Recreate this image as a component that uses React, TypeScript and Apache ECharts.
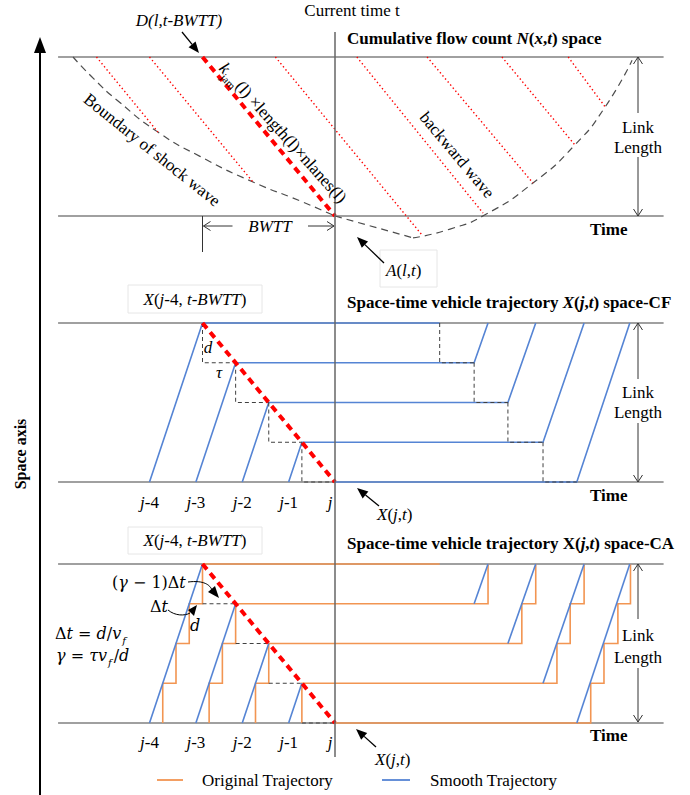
import React, { useEffect, useRef } from 'react';
import * as echarts from 'echarts';

// ---------------- data (time in Δt units, t = 0 is current time; space in cells d) ----------------
const vehicleLabels = ['j-4', 'j-3', 'j-2', 'j-1', 'j'];
const entryTimes = [-14, -10.5, -7, -3.5, 0];
const queueLevels = [4, 3, 2, 1, 0];
const queueArrivals = [-10, -7.5, -5, -2.5, 0];
const departTimes = [7.9, 10.5, 13.05, 15.7, 18.25];
const exitTimes: (number | null)[] = [null, 11.55, 15.15, 18.8, 22.25];
const caEntrySteps = [[-13, -12, -11, -10], [-9.5, -8.5, -7.5], [-6, -5], [-2.5], []];
const caExitSteps = [[], [11.55], [14.1, 15.15], [16.75, 17.75, 18.8], [19.3, 20.3, 21.35, 22.3]];
const linkRange = [0, 4];
const timeRange = [-21, 25];
const panelLineTimes = [-20.9, 24.8];
const jamWave = [[-10, 4], [0, 0]];
const backwardWaveTops = [-18, -14, -4.5, 1.65, 6.95, 12.6, 17.6];
const backwardWaveEnds = [[-13.36, 2.11], [-6.19, 0.855], [6.57, -0.48], [11.17, 0.075], [14.94, 0.83], [18.1, 1.79], [20.4, 2.74]];
const shockLeft = [[-19.77, 4], [-18.2, 3.45], [-16.4, 2.9], [-13.36, 2.11], [-10.19, 1.5], [-6.19, 0.855], [-2.64, 0.38], [0, 0]];
const shockMid = [[0, 0], [5.89, -0.55]];
const shockRight = [[5.89, -0.55], [8.68, -0.33], [11.32, 0.03], [14.94, 0.83], [18.11, 1.79], [20.38, 2.74], [22.42, 3.92]];
const legendNames = ['Original Trajectory', 'Smooth Trajectory'];

// ---------------- layout & style ----------------
const SERIF = '"Liberation Serif", "Times New Roman", serif';
const MATH = '"DejaVu Serif", serif';
const GRID_LEFT = 56.75;
const GRID_W = 609.5;
const PANEL_TOPS = [57, 323, 564];
const PANEL_H = 159;
const GRAY = '#808080';
const RED = '#ff0000';
const BLUE = '#5584d4';
const ORANGE = '#f29552';
const DASH = '#404040';

function buildOption() {
  const series: any[] = [];
  const add = (grid: number, data: number[][], color: string, width: number, type: any, z: number, extra: any = {}) => {
    series.push({
      type: 'line', xAxisIndex: grid, yAxisIndex: grid, data, symbol: 'none', showSymbol: false,
      clip: false, silent: true, z, animation: false,
      lineStyle: { color, width, type, cap: 'butt', join: 'miter' },
      itemStyle: { color },
      emphasis: { disabled: true },
      ...extra,
    });
  };
  for (let g = 0; g < 3; g++) {
    add(g, [[panelLineTimes[0], linkRange[1]], [panelLineTimes[1], linkRange[1]]], GRAY, 1.5, 'solid', 1);
    add(g, [[panelLineTimes[0], linkRange[0]], [panelLineTimes[1], linkRange[0]]], GRAY, 1.5, 'solid', 1);
  }
  // ---- panel 1: cumulative flow count ----
  backwardWaveTops.forEach((t, i) => add(0, [[t, linkRange[1]], backwardWaveEnds[i]], RED, 1.4, [1.4, 2.6], 3));
  add(0, shockLeft, '#4d4d4d', 1.2, [7, 5], 2, { smooth: 0.6 });
  add(0, shockMid, '#4d4d4d', 1.2, [7, 5], 2);
  add(0, shockRight, '#4d4d4d', 1.2, [7, 5], 2, { smooth: 0.6 });
  add(0, jamWave, RED, 4, [7, 5], 6);

  // ---- panel 2: CF trajectories ----
  vehicleLabels.forEach((_, k) => {
    const pts = [[entryTimes[k], 0], [queueArrivals[k], queueLevels[k]], [departTimes[k], queueLevels[k]]];
    if (exitTimes[k] != null) pts.push([exitTimes[k] as number, linkRange[1]]);
    add(1, pts, BLUE, 1.6, 'solid', 3, { name: legendNames[1] });
  });
  for (let k = 0; k < 4; k++) {
    add(1, [[queueArrivals[k], queueLevels[k]], [queueArrivals[k], queueLevels[k] - 1], [queueArrivals[k + 1], queueLevels[k] - 1]], DASH, 1, [4, 3], 4);
    add(1, [[departTimes[k], queueLevels[k]], [departTimes[k], queueLevels[k] - 1], [departTimes[k + 1], queueLevels[k] - 1]], DASH, 1, [4, 3], 4);
  }
  add(1, jamWave, RED, 4, [7, 5], 6);

  // ---- panel 3: CA trajectories ----
  vehicleLabels.forEach((_, k) => {
    const pts: number[][] = [];
    let lvl = 0;
    if (caEntrySteps[k].length === 0) pts.push([queueArrivals[k], 0]);
    caEntrySteps[k].forEach((s) => { pts.push([s, lvl]); pts.push([s, lvl + 1]); lvl++; });
    caExitSteps[k].forEach((s) => { pts.push([s, lvl]); pts.push([s, lvl + 1]); lvl++; });
    if (caExitSteps[k].length === 0) pts.push([departTimes[k], lvl]);
    add(2, pts, ORANGE, 1.6, 'solid', 2, { name: legendNames[0] });
    if (queueLevels[k] > 0) add(2, [[entryTimes[k], 0], [queueArrivals[k], queueLevels[k]]], BLUE, 1.6, 'solid', 3, { name: legendNames[1] });
    if (exitTimes[k] != null) add(2, [[departTimes[k], queueLevels[k]], [exitTimes[k] as number, linkRange[1]]], BLUE, 1.6, 'solid', 3, { name: legendNames[1] });
  });
  for (let k = 0; k < 4; k++) {
    add(2, [[queueArrivals[k], queueLevels[k] - 1], [queueArrivals[k + 1], queueLevels[k] - 1]], DASH, 1, [4, 3], 4);
  }
  add(2, jamWave, RED, 4, [7, 5], 6);

  return {
    animation: false,
    backgroundColor: '#ffffff',
    textStyle: { fontFamily: 'Liberation Serif' },
    grid: PANEL_TOPS.map((top) => ({ left: GRID_LEFT, top, width: GRID_W, height: PANEL_H })),
    xAxis: PANEL_TOPS.map((_, i) => ({ type: 'value', gridIndex: i, min: timeRange[0], max: timeRange[1], show: false })),
    yAxis: PANEL_TOPS.map((_, i) => ({ type: 'value', gridIndex: i, min: linkRange[0], max: linkRange[1], show: false })),
    series,
  };
}

function buildGraphic(chart: any) {
  const g: any[] = [];
  const P = (grid: number, t: number, y: number) => chart.convertToPixel({ xAxisIndex: grid, yAxisIndex: grid }, [t, y]);
  const ln = (x1: number, y1: number, x2: number, y2: number, stroke = '#000', lineWidth = 1, lineDash?: number[]) =>
    g.push({ type: 'line', z: 20, silent: true, shape: { x1, y1, x2, y2 }, style: { stroke, lineWidth, lineDash } });
  const poly = (points: number[][], fill = '#000') => g.push({ type: 'polygon', z: 21, silent: true, shape: { points }, style: { fill } });
  const pl = (points: number[][], stroke = '#333', lineWidth = 1) => g.push({ type: 'polyline', z: 21, silent: true, shape: { points }, style: { stroke, lineWidth, fill: 'none' } });
  const rect = (x: number, y: number, width: number, height: number) => g.push({ type: 'rect', z: 18, silent: true, shape: { x, y, width, height }, style: { fill: '#fff', stroke: '#e6e6e6', lineWidth: 1 } });
  const baseRich: any = {
    r: { fontFamily: SERIF, fontSize: 17, lineHeight: 24 },
    i: { fontFamily: SERIF, fontSize: 17, fontStyle: 'italic', lineHeight: 24 },
    b: { fontFamily: SERIF, fontSize: 17, fontWeight: 'bold', lineHeight: 24 },
    bi: { fontFamily: SERIF, fontSize: 17, fontWeight: 'bold', fontStyle: 'italic', lineHeight: 24 },
    s: { fontFamily: SERIF, fontSize: 11, lineHeight: 14, verticalAlign: 'bottom' },
    m: { fontFamily: MATH, fontSize: 16, lineHeight: 24 },
    mi: { fontFamily: MATH, fontSize: 16, fontStyle: 'italic', lineHeight: 24 },
    ms: { fontFamily: MATH, fontSize: 10, fontStyle: 'italic', lineHeight: 14, verticalAlign: 'bottom', padding: [0, 2, 0, 1] },
  };
  const tx = (text: string, x: number, y: number, o: any = {}) =>
    g.push({
      type: 'text', z: 30, silent: true, x, y, rotation: o.rot || 0,
      style: {
        text, fill: '#000', fontFamily: o.family || SERIF, fontSize: o.size || 17,
        fontWeight: o.weight || 'normal', fontStyle: o.italic ? 'italic' : 'normal',
        align: o.align || 'left', verticalAlign: 'middle', rich: baseRich,
      },
    });
  const arrow = (tail: number[], tip: number[], L = 11, w = 4.5) => {
    const dx = tip[0] - tail[0], dy = tip[1] - tail[1];
    const len = Math.hypot(dx, dy);
    const ux = dx / len, uy = dy / len;
    const bx = tip[0] - ux * L, by = tip[1] - uy * L;
    ln(tail[0], tail[1], bx, by, '#000', 1.3);
    poly([[tip[0], tip[1]], [bx - uy * w, by + ux * w], [bx + uy * w, by - ux * w]]);
  };
  const chev = (tip: number[], dir: number[], L = 7, w = 4.5, stroke = '#333') => {
    const bx = tip[0] - dir[0] * L, by = tip[1] - dir[1] * L;
    pl([[bx - dir[1] * w, by + dir[0] * w], tip, [bx + dir[1] * w, by - dir[0] * w]], stroke, 1);
  };
  const linkLength = (x: number, top: number, bottom: number, y1: number, y2: number, gapTop: number, gapBot: number) => {
    ln(x, top, x, gapTop, '#333', 1);
    ln(x, gapBot, x, bottom, '#333', 1);
    chev([x, top], [0, -1]);
    chev([x, bottom], [0, 1]);
    tx('Link', x, y1, { align: 'center' });
    tx('Length', x, y2, { align: 'center' });
  };

  // space axis
  ln(40, 50, 40, 795, '#000', 2);
  poly([[40, 37], [34, 53], [46, 53]]);
  tx('Space axis', 20, 454, { rot: Math.PI / 2, weight: 'bold', align: 'center', size: 16 });

  // current time line
  const x0 = P(0, 0, 0)[0];
  ln(x0, 32, x0, 757, '#666', 1.5);
  tx('Current time t', 352, 10, { align: 'center' });

  // ---- panel 1 annotations ----
  tx('D(l,t-BWTT)', 179, 20, { italic: true, align: 'center' });
  arrow([182, 32], [199, 53]);
  tx('{b|Cumulative flow count }{bi|N}{b|(}{bi|x}{b|,}{bi|t}{b|) space}', 347, 38);
  linkLength(638, 57, 216, 127, 147, 113, 157);
  tx('Time', 590, 229, { weight: 'bold' });
  tx('{i|k}{s|jam}{r|(l) ×length(l)×nlanes(l)}', 283, 133, { rot: -0.84, align: 'center' });
  tx('Boundary of shock wave', 152, 150, { rot: -0.675, align: 'center' });
  tx('backward wave', 457, 155, { rot: -0.875, align: 'center' });
  const xD = P(0, jamWave[0][0], 0)[0];
  ln(xD, 216, xD, 252, '#333', 1);
  ln(xD + 1, 226, xD + 30, 226, '#333', 1);
  chev([xD + 1, 226], [-1, 0]);
  tx('BWTT', 270, 226, { italic: true, align: 'center' });
  ln(308, 226, x0 - 1, 226, '#333', 1);
  chev([x0 - 1, 226], [1, 0]);
  rect(380, 250, 57, 37);
  arrow([384, 263], [357, 237]);
  tx('{i|A}{r|(}{i|l}{r|,}{i|t}{r|)}', 386, 270);

  // ---- panel 2 annotations ----
  rect(128, 285, 134, 28);
  tx('{i|X}{r|(}{i|j}{r|-4, }{i|t-BWTT}{r|)}', 195, 299, { align: 'center' });
  tx('{b|Space-time vehicle trajectory }{bi|X}{b|(}{bi|j}{b|,}{bi|t}{b|) space-CF}', 347, 302);
  tx('d', 208, 347, { italic: true, align: 'center' });
  tx('τ', 219, 372, { italic: true, align: 'center' });
  vehicleLabels.forEach((lab, k) => {
    const x = P(1, entryTimes[k], 0)[0] - (k === 4 ? 5 : 0);
    const parts = lab.split('-');
    const t = parts.length > 1 ? `{i|j}{r|-${parts[1]}}` : '{i|j}';
    tx(t, x, 502, { align: 'center' });
    tx(t, x, 742, { align: 'center' });
  });
  arrow([379, 506], [357, 488]);
  tx('{i|X}{r|(}{i|j}{r|,}{i|t}{r|)}', 377, 514);
  tx('Time', 590, 495, { weight: 'bold' });
  linkLength(638, 323, 482, 392, 412, 379, 423);

  // ---- panel 3 annotations ----
  rect(128, 527, 134, 27);
  tx('{i|X}{r|(}{i|j}{r|-4, }{i|t-BWTT}{r|)}', 195, 540, { align: 'center' });
  tx('{b|Space-time vehicle trajectory X(}{bi|j}{b|,}{bi|t}{b|) space-CA}', 347, 543);
  tx('Time', 590, 735, { weight: 'bold' });
  linkLength(638, 564, 722, 635, 657, 619, 668);
  arrow([376, 747], [356, 729]);
  tx('{i|X}{r|(}{i|j}{r|,}{i|t}{r|)}', 375, 759);
  tx('{m|(}{mi|γ}{m| − 1)Δ}{mi|t}', 112, 582, { family: MATH, size: 16 });
  tx('{m|Δ}{mi|t}', 150, 606, { family: MATH, size: 16 });
  tx('d', 195, 625, { italic: true, align: 'center', family: MATH, size: 16 });
  tx('{m|Δ}{mi|t}{m| = }{mi|d}{m|/}{mi|v}{ms|f}', 55, 633, { family: MATH, size: 16 });
  tx('{mi|γ}{m| = }{mi|τv}{ms|f}{m|/}{mi|d}', 56, 655, { family: MATH, size: 16 });
  g.push({ type: 'bezierCurve', z: 20, silent: true, shape: { x1: 188, y1: 582, cpx1: 204, cpy1: 580, cpx2: 210, cpy2: 585, x2: 212, y2: 590 }, style: { stroke: '#000', lineWidth: 1, fill: 'none' } });
  poly([[219, 598], [208, 592], [215, 586]]);
  g.push({ type: 'bezierCurve', z: 20, silent: true, shape: { x1: 168, y1: 610, cpx1: 175, cpy1: 616, cpx2: 185, cpy2: 616, x2: 190, y2: 613 }, style: { stroke: '#000', lineWidth: 1, fill: 'none' } });
  poly([[197, 605], [188, 610], [194, 616]]);

  // legend
  ln(157, 780, 183, 780, ORANGE, 1.8);
  tx(legendNames[0], 202, 780);
  ln(382, 780, 410, 780, BLUE, 1.8);
  tx(legendNames[1], 430, 780);

  return g;
}

export default function App() {
  const ref = useRef<HTMLDivElement>(null);
  useEffect(() => {
    const el = ref.current as HTMLDivElement;
    const chart = echarts.init(el, null, { renderer: 'svg' });
    chart.setOption(buildOption() as any);
    chart.setOption({ graphic: buildGraphic(chart) } as any);
    return () => chart.dispose();
  }, []);
  return <div ref={ref} style={{ position: 'fixed', left: 0, top: 0, width: 690, height: 795, background: '#fff' }} />;
}
